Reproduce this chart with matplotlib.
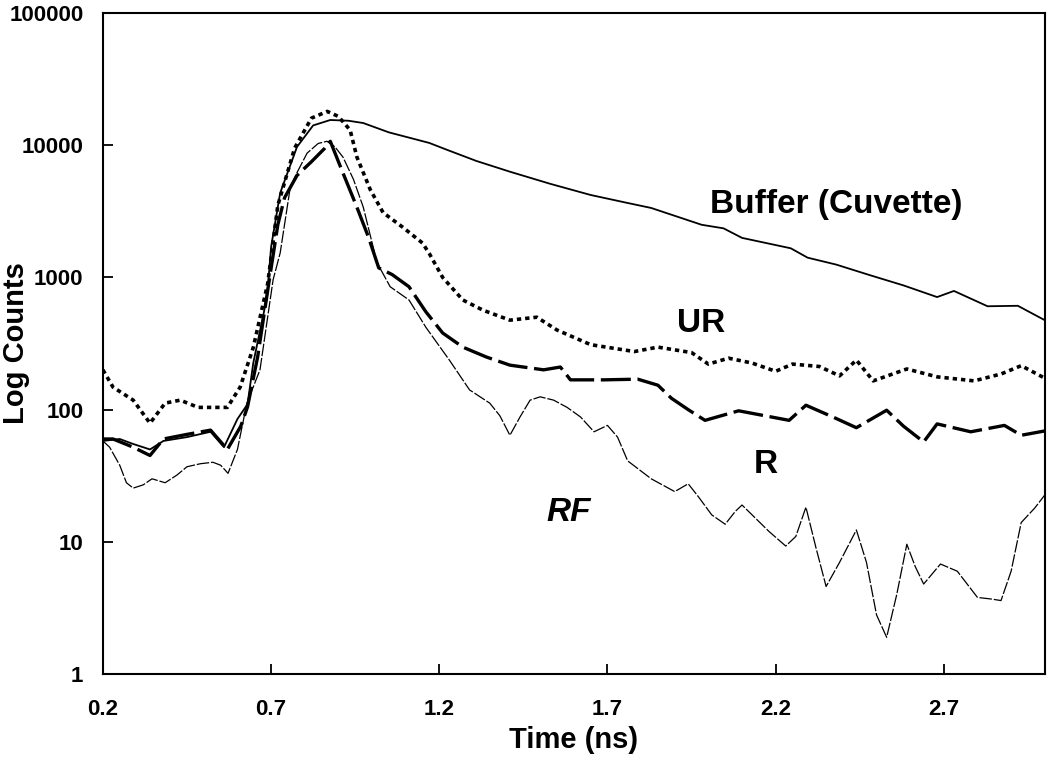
import matplotlib
matplotlib.use("Agg")
import matplotlib.pyplot as plt

plt.rcParams['font.family'] = ['Liberation Sans', 'DejaVu Sans']
plt.rcParams['font.weight'] = 'bold'

# Buffer (Cuvette) - solid
buf_t = [0.20, 0.25, 0.29, 0.34, 0.38, 0.45, 0.52, 0.56, 0.60, 0.63, 0.647, 0.688, 0.70,
         0.727, 0.777, 0.825, 0.876, 0.93, 0.974, 1.05, 1.17, 1.224, 1.31, 1.41, 1.53,
         1.65, 1.75, 1.83, 1.98, 2.045, 2.10, 2.245, 2.295, 2.38, 2.48, 2.58, 2.68,
         2.73, 2.83, 2.92, 3.0]
buf_c = [58, 60, 55, 50, 58, 62, 68, 52, 85, 110, 225, 710, 1700,
         4350, 9700, 14100, 15500, 15300, 14700, 12500, 10400, 9200, 7600, 6300, 5100,
         4200, 3700, 3350, 2500, 2350, 1990, 1660, 1410, 1250, 1040, 870, 710,
         790, 605, 610, 475]

# UR - dotted
ur_t = [0.20, 0.23, 0.29, 0.34, 0.385, 0.43, 0.483, 0.57, 0.608, 0.647, 0.69, 0.72,
        0.77, 0.82, 0.867, 0.90, 0.935, 0.955, 0.995, 1.033, 1.09, 1.15, 1.17, 1.21,
        1.27, 1.33, 1.41, 1.49, 1.55, 1.65, 1.78, 1.85, 1.95, 2.0, 2.06, 2.13, 2.20,
        2.25, 2.33, 2.39, 2.44, 2.49, 2.59, 2.68, 2.79, 2.87, 2.93, 3.0]
ur_c = [200, 148, 118, 79, 112, 118, 104, 104, 148, 295, 900, 3500,
        9500, 16000, 18000, 16500, 13000, 8140, 4600, 3090, 2410, 1820, 1520, 1000,
        675, 565, 475, 500, 400, 310, 275, 297, 270, 221, 245, 225, 195,
        221, 212, 180, 237, 165, 203, 177, 165, 186, 215, 173]

# R - dashed
r_t = [0.20, 0.23, 0.29, 0.34, 0.38, 0.45, 0.52, 0.57, 0.61, 0.63, 0.66, 0.69, 0.72,
       0.74, 0.777, 0.82, 0.86, 0.876, 0.91, 0.955, 0.99, 1.02, 1.06, 1.11, 1.16,
       1.21, 1.27, 1.34, 1.41, 1.51, 1.56, 1.59, 1.69, 1.79, 1.85, 1.89, 1.94, 1.99,
       2.09, 2.24, 2.29, 2.37, 2.44, 2.53, 2.58, 2.64, 2.68, 2.78, 2.88, 2.93, 3.0]
r_c = [60, 60, 52, 45, 60, 65, 70, 50, 75, 105, 250, 800, 2500,
       4000, 5900, 7500, 9500, 10700, 6500, 3400, 2000, 1180, 1050, 850, 550,
       380, 297, 250, 217, 200, 210, 168, 168, 170, 153, 122, 100, 83,
       98, 83, 108, 88, 73, 99, 75, 57, 78, 68, 76, 64, 69]

# RF - thin dashed
rf_t = [0.20, 0.22, 0.25, 0.27, 0.29, 0.32, 0.346, 0.365, 0.385, 0.42, 0.45, 0.49, 0.527,
        0.55, 0.572, 0.60, 0.628, 0.667, 0.706, 0.727, 0.757, 0.777, 0.807, 0.84, 0.866,
        0.89, 0.914, 0.945, 0.974, 1.015, 1.054, 1.11, 1.16, 1.23, 1.29, 1.35, 1.38,
        1.41, 1.44, 1.47, 1.50, 1.54, 1.58, 1.62, 1.66, 1.70, 1.73, 1.76, 1.83, 1.90,
        1.94, 1.97, 2.01, 2.05, 2.08, 2.10, 2.13, 2.18, 2.23, 2.26, 2.29, 2.32, 2.35,
        2.39, 2.44, 2.47, 2.50, 2.53, 2.56, 2.59, 2.615, 2.64, 2.69, 2.74, 2.80,
        2.84, 2.87, 2.90, 2.93, 2.97, 3.0]
rf_c = [58, 52, 38, 28, 25.5, 27, 30, 29, 28, 32, 37, 39, 40,
        38, 33, 50, 112, 200, 960, 1530, 4800, 6200, 8700, 10300, 10700,
        9700, 8100, 5500, 3400, 1290, 850, 675, 420, 237, 141, 112, 90,
        64, 88, 118, 125, 118, 104, 88, 68, 76, 62, 41, 30, 24,
        27.5, 22, 16, 13.6, 17, 19, 16, 12, 9.3, 11, 18.3, 9, 4.6,
        7, 12.3, 7, 2.8, 1.9, 4, 9.6, 6.5, 4.8, 6.8, 6, 3.8,
        3.7, 3.6, 6, 14, 18, 22.6]

x_ticks = [0.2, 0.7, 1.2, 1.7, 2.2, 2.7]
y_ticks = [1, 10, 100, 1000, 10000, 100000]

fig = plt.figure(figsize=(10.5, 7.6), dpi=100)
ax = fig.add_axes([0.098, 0.113, 0.897, 0.870])

ax.plot(buf_t, buf_c, color='black', lw=1.3)
ax.plot(ur_t, ur_c, color='black', lw=2.6, linestyle=(0, (1.2, 1.1)))
ax.plot(r_t, r_c, color='black', lw=2.4, linestyle=(0, (9, 2)))
ax.plot(rf_t, rf_c, color='black', lw=0.9, linestyle=(0, (10, 1.5)))

ax.text(2.38, 3530, 'Buffer (Cuvette)', fontsize=24, fontweight='bold', ha='center', va='center')
ax.text(1.977, 452, 'UR', fontsize=24, fontweight='bold', ha='center', va='center')
ax.text(2.17, 38.8, 'R', fontsize=24, fontweight='bold', ha='center', va='center')
ax.text(1.584, 16.8, 'RF', fontsize=24, fontweight='bold', fontstyle='italic', ha='center', va='center')

ax.set_yscale('log')
ax.set_xlim(0.2, 3.0)
ax.set_ylim(1, 100000)
ax.set_xticks(x_ticks)
ax.set_xticklabels([str(v) for v in x_ticks])
ax.set_yticks(y_ticks)
ax.set_yticklabels([str(v) for v in y_ticks])
ax.minorticks_off()
ax.tick_params(direction='in', length=7, width=1.3, labelsize=16, pad=14)
ax.tick_params(axis='x', pad=18)
for s in ax.spines.values():
    s.set_linewidth(1.5)

ax.set_xlabel('Time (ns)', fontsize=21, fontweight='bold', labelpad=4)
ax.set_ylabel('Log Counts', fontsize=21, fontweight='bold')
ax.yaxis.set_label_coords(-0.077, 0.5)

fig.savefig('out.png', dpi=100)
